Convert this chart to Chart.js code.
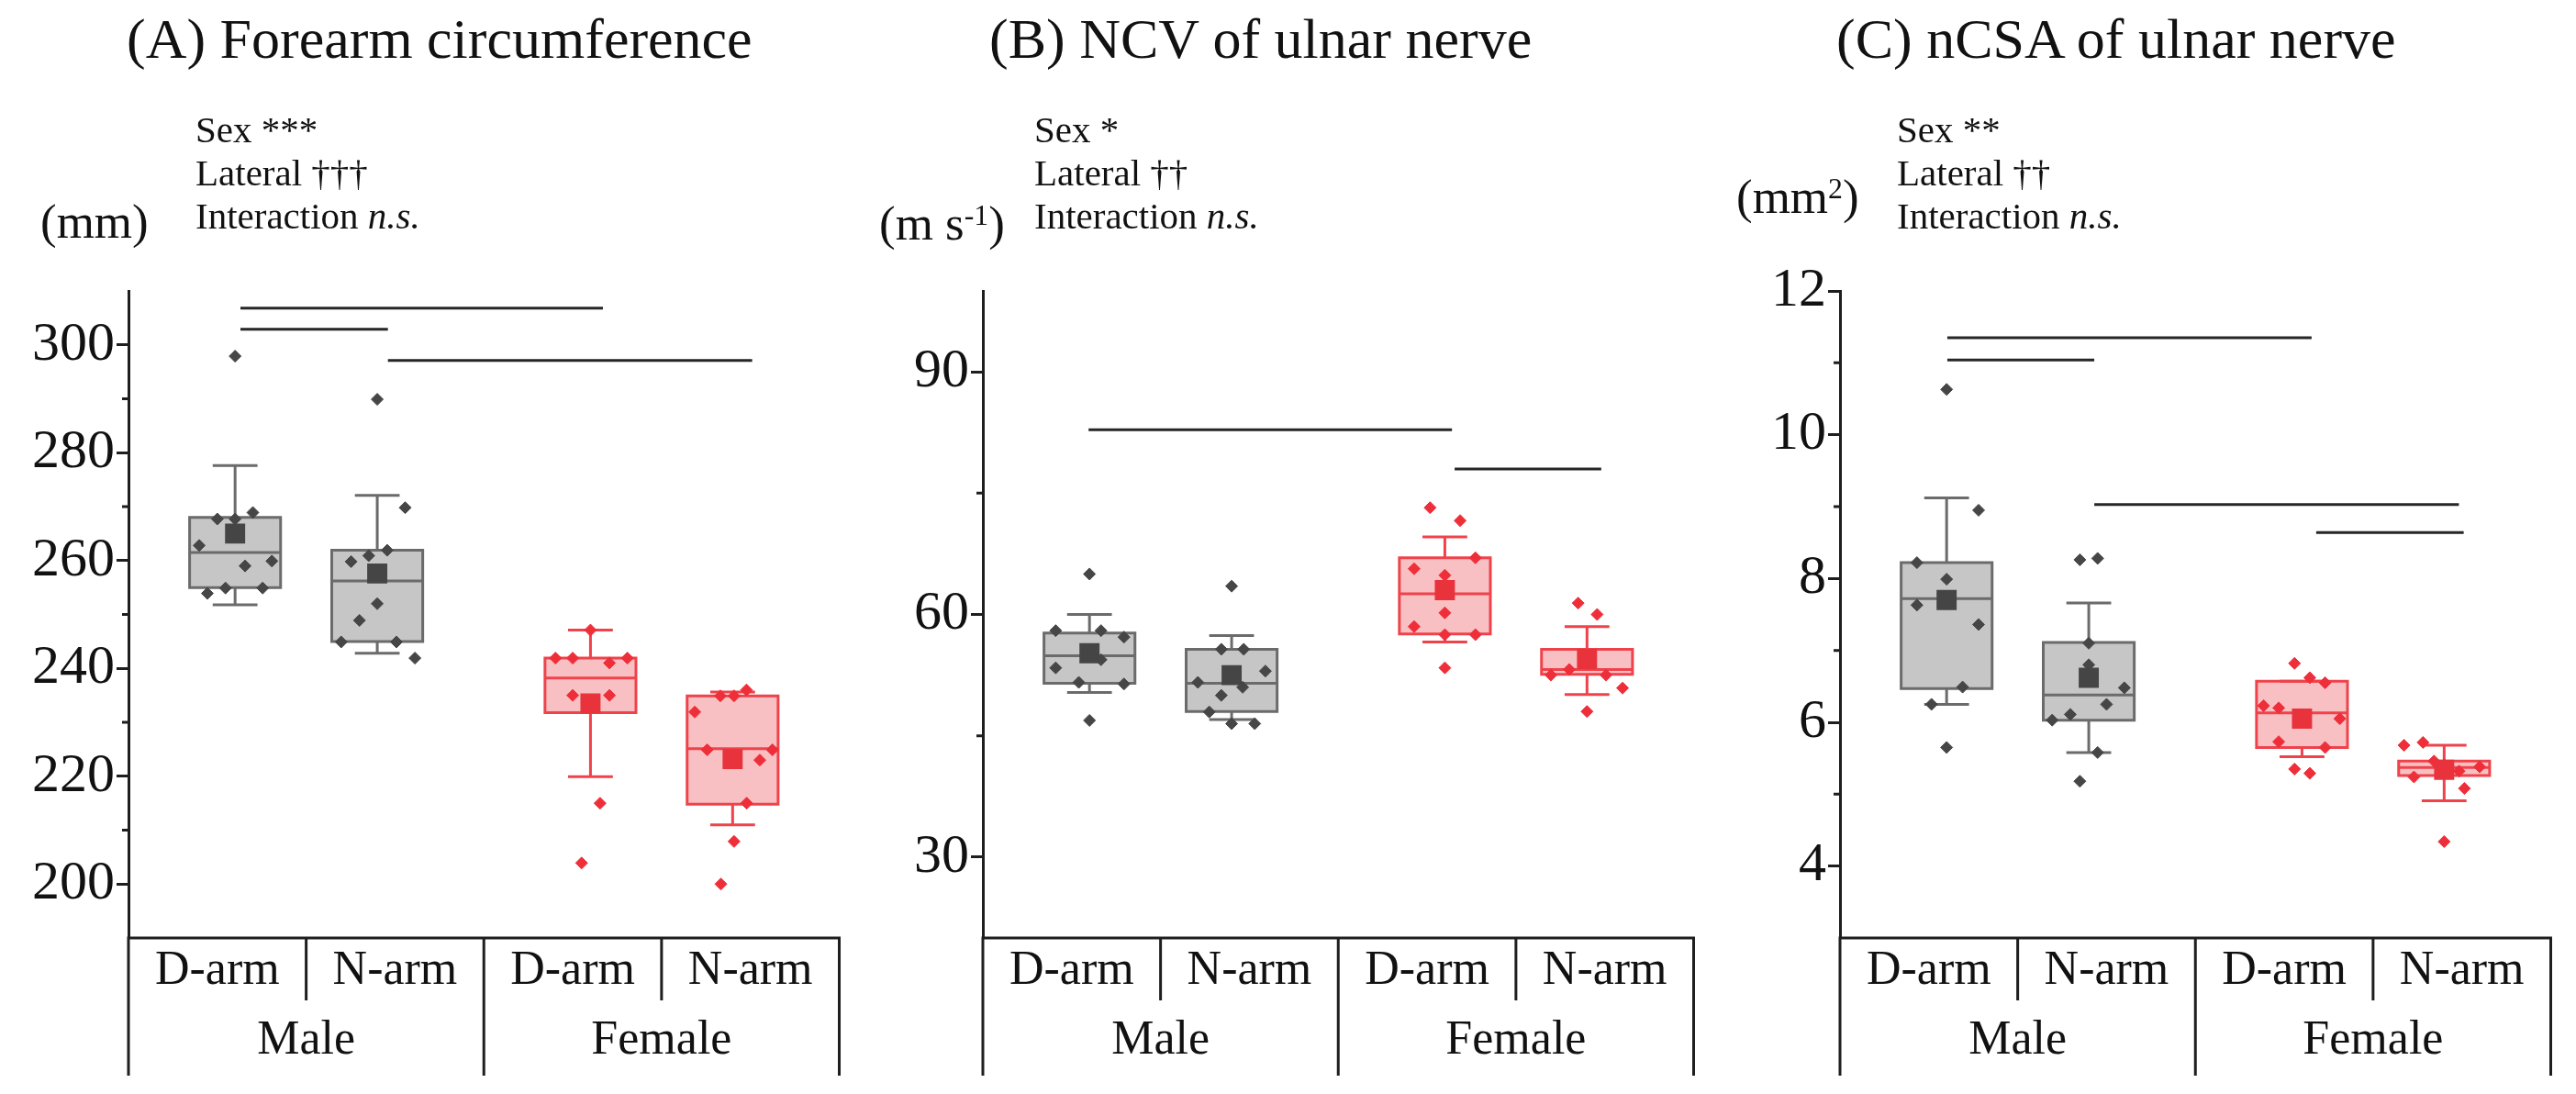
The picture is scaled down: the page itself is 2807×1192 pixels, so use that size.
<!DOCTYPE html>
<html>
<head>
<meta charset="utf-8">
<script src="https://cdn.jsdelivr.net/npm/chart.js@4.4.1/dist/chart.umd.min.js"></script>
<style>
  body { margin: 0; background: #fff; }
  #page { position: relative; width: 2807px; height: 1192px; overflow: hidden; background: #fff;
          font-family: "Liberation Serif", "Times New Roman", serif; color: #111; }
  #page canvas { position: absolute; top: 0; }
  .title { position: absolute; top: 11px; font-size: 62px; line-height: 1; white-space: nowrap; }
  .note { position: absolute; top: 118px; font-size: 41px; line-height: 47px; white-space: nowrap; }
  .unit { position: absolute; font-size: 53px; line-height: 1; white-space: nowrap; }
  .unit sup { font-size: 0.6em; line-height: 0; vertical-align: 0.5em; }
</style>
</head>
<body>
<div id="page">
  <canvas id="chartA" width="930" height="1192" style="left:0px"></canvas>
  <canvas id="chartB" width="930" height="1192" style="left:931px"></canvas>
  <canvas id="chartC" width="930" height="1192" style="left:1865px"></canvas>

  <div class="title" style="left:138px">(A) Forearm circumference</div>
  <div class="title" style="left:1078px">(B) NCV of ulnar nerve</div>
  <div class="title" style="left:2001px">(C) nCSA of ulnar nerve</div>

  <div class="note" style="left:213px">Sex ***<br>Lateral †††<br>Interaction <i>n.s.</i></div>
  <div class="note" style="left:1127px">Sex *<br>Lateral ††<br>Interaction <i>n.s.</i></div>
  <div class="note" style="left:2067px">Sex **<br>Lateral ††<br>Interaction <i>n.s.</i></div>

  <div class="unit" style="left:44px;top:215px">(mm)</div>
  <div class="unit" style="left:958px;top:217px">(m s<sup>-1</sup>)</div>
  <div class="unit" style="left:1892px;top:188px">(mm<sup>2</sup>)</div>
</div>

<script>
const armLabels = ['D-arm', 'N-arm', 'D-arm', 'N-arm'];
const sexLabels = ['Male', 'Female'];

// (A) Forearm circumference (mm)
const forearmRange = [190, 310];
const forearmTicks = [200, 220, 240, 260, 280, 300];
const forearmMinor = [210, 230, 250, 270, 290];
const forearmQ1 = [255.0, 245.0, 231.8, 214.8];
const forearmMedian = [261.5, 256.2, 238.2, 225.1];
const forearmQ3 = [268.0, 261.9, 241.9, 234.9];
const forearmLow = [251.8, 242.8, 219.9, 211.0];
const forearmHigh = [277.6, 272.1, 247.1, 235.6];
const forearmMean = [265.0, 257.6, 233.5, 223.2];
const forearmPoints = [
    [297.9, 253.9, 254.9, 262.8, 267.7, 267.7, 268.9, 259.0, 259.9, 254.9],
    [289.9, 269.8, 259.8, 260.9, 261.9, 252.0, 248.9, 244.9, 244.9, 241.9],
    [247.1, 241.9, 241.9, 241.0, 241.9, 235.0, 235.0, 215.0, 203.9],
    [231.9, 224.9, 224.9, 223.0, 215.0, 207.9, 200.0, 234.9, 234.9, 236.0]
];
const forearmJitter = [
    [0, -0.156, -0.054, -0.202, -0.10, 0, 0.10, 0.056, 0.207, 0.155],
    [0, 0.157, -0.147, -0.048, 0.056, 0, -0.10, -0.203, 0.108, 0.212],
    [0, -0.197, -0.10, 0.107, 0.208, -0.10, 0.107, 0.054, -0.05],
    [-0.213, -0.143, 0.224, 0.153, 0.079, 0.008, -0.066, -0.069, 0.008, 0.078]
];
const forearmSig = [[0.63, 2.67, 306.8], [0.63, 1.46, 302.9], [1.46, 3.51, 297.1]];

// (B) NCV of ulnar nerve (m/s)
const ncvRange = [20, 100];
const ncvTicks = [30, 60, 90];
const ncvMinor = [45, 75];
const ncvQ1 = [51.5, 48.0, 57.6, 52.6];
const ncvMedian = [54.9, 51.5, 62.55, 53.2];
const ncvQ3 = [57.7, 55.7, 67.0, 55.7];
const ncvLow = [50.35, 47.0, 56.6, 50.1];
const ncvHigh = [60.0, 57.4, 69.6, 58.5];
const ncvMean = [55.2, 52.5, 63.0, 54.5];
const ncvPoints = [
    [65.0, 58.0, 58.0, 57.2, 55.1, 54.4, 53.4, 51.6, 51.4, 46.9],
    [63.5, 55.7, 55.7, 53.0, 51.6, 51.0, 50.0, 47.95, 46.5, 46.5],
    [73.2, 71.6, 67.0, 65.65, 64.85, 60.2, 58.5, 57.5, 57.5, 53.4],
    [61.4, 60.0, 52.5, 53.2, 52.5, 53.9, 50.9, 48.0]
];
const ncvJitter = [
    [0, -0.19, 0.065, 0.194, 0, 0.065, -0.19, -0.06, 0.194, 0],
    [0, -0.058, 0.068, 0.19, -0.19, 0.062, -0.058, -0.126, 0, 0.13],
    [-0.083, 0.086, 0.172, -0.173, 0, 0, -0.173, 0, 0.172, 0],
    [-0.05, 0.057, -0.203, -0.10, 0.107, 0, 0.20, 0]
];
const ncvSig = [[0.595, 2.64, 82.85], [2.655, 3.48, 78.0]];

// (C) nCSA of ulnar nerve (mm2)
const ncsaRange = [3, 12];
const ncsaTicks = [4, 6, 8, 10, 12];
const ncsaMinor = [5, 7, 9, 11];
const ncsaQ1 = [6.47, 6.03, 5.65, 5.26];
const ncsaMedian = [7.72, 6.38, 6.13, 5.37];
const ncsaQ3 = [8.22, 7.11, 6.57, 5.46];
const ncsaLow = [6.25, 5.58, 5.52, 4.91];
const ncsaHigh = [9.12, 7.66, 6.57, 5.68];
const ncsaMean = [7.70, 6.62, 6.05, 5.34];
const ncsaPoints = [
    [10.63, 8.95, 8.22, 7.99, 7.63, 7.36, 6.49, 6.25, 5.65],
    [8.26, 8.28, 7.10, 6.80, 6.48, 6.25, 6.11, 6.03, 5.58, 5.18],
    [6.82, 6.62, 6.55, 6.23, 6.20, 6.05, 5.73, 5.65, 5.35, 5.29],
    [5.68, 5.72, 5.24, 5.46, 5.41, 5.32, 5.38, 5.08, 4.34]
];
const ncsaJitter = [
    [0, 0.18, -0.167, 0, -0.167, 0.18, 0.09, -0.085, 0],
    [-0.05, 0.05, 0, 0, 0.20, 0.10, -0.104, -0.206, 0.05, -0.05],
    [-0.042, 0.044, 0.13, -0.216, -0.131, 0.213, -0.131, 0.13, -0.042, 0.044],
    [-0.226, -0.119, -0.17, -0.057, 0, 0.084, 0.20, 0.114, 0]
];
const ncsaSig = [[0.604, 2.654, 11.35], [0.604, 1.431, 11.04], [1.431, 3.483, 9.03], [2.68, 3.51, 8.64]];

// layout / style
const boxCenters = [0.6, 1.4, 2.6, 3.4];
const boxHalf = 0.256;
const capHalf = 0.126;
const axisColor = '#1e1e1e';
const fontFamily = '"Liberation Serif", "Times New Roman", serif';
const palette = [
    { fill: '#c6c6c6', line: '#6b6b6b', dot: '#464646', mean: '#454545' },
    { fill: '#f9c0c4', line: '#ef424a', dot: '#ee2f3a', mean: '#e8333d' }
];

// x-axis drawn as a two-row table, plus short minor ticks on y
const tablePlugin = {
    id: 'catTable',
    afterDraw(chart, args, opts) {
        const { ctx, chartArea } = chart;
        const xs = chart.scales.x;
        const ys = chart.scales.y;
        const b = chartArea.bottom;
        ctx.save();
        ctx.strokeStyle = axisColor;
        ctx.lineWidth = 3;
        ctx.beginPath();
        ctx.moveTo(xs.getPixelForValue(0) - 1.5, b);
        ctx.lineTo(xs.getPixelForValue(4) + 1.5, b);
        [0, 2, 4].forEach(v => {
            const x = xs.getPixelForValue(v);
            ctx.moveTo(x, b);
            ctx.lineTo(x, b + 150);
        });
        [1, 3].forEach(v => {
            const x = xs.getPixelForValue(v);
            ctx.moveTo(x, b);
            ctx.lineTo(x, b + 68);
        });
        opts.minor.forEach(v => {
            const y = ys.getPixelForValue(v);
            ctx.moveTo(chartArea.left - 7, y);
            ctx.lineTo(chartArea.left, y);
        });
        ctx.stroke();

        ctx.fillStyle = '#111';
        ctx.textAlign = 'center';
        ctx.textBaseline = 'alphabetic';
        ctx.font = '52px ' + fontFamily;
        armLabels.forEach((t, i) => ctx.fillText(t, xs.getPixelForValue(i + 0.5), b + 50));
        sexLabels.forEach((t, i) => ctx.fillText(t, xs.getPixelForValue(i * 2 + 1), b + 126));
        ctx.restore();
    }
};

function gapAt(x) {
    return { x: x, y: null };
}

function buildChart(canvasId, p) {
    const datasets = [];
    p.q1.forEach((q1, i) => {
        const c = boxCenters[i];
        const col = palette[i < 2 ? 0 : 1];
        const q3 = p.q3[i];

        // box body
        datasets.push({
            data: [
                { x: c - boxHalf, y: q1 }, { x: c + boxHalf, y: q1 },
                { x: c + boxHalf, y: q3 }, { x: c - boxHalf, y: q3 },
                { x: c - boxHalf, y: q1 }
            ],
            fill: 'shape',
            backgroundColor: col.fill,
            borderColor: col.line,
            borderWidth: 3,
            borderCapStyle: 'square',
            pointRadius: 0,
            order: 5
        });

        // median, whiskers and caps
        datasets.push({
            data: [
                { x: c - boxHalf, y: p.median[i] }, { x: c + boxHalf, y: p.median[i] }, gapAt(c),
                { x: c, y: q3 }, { x: c, y: p.high[i] }, gapAt(c),
                { x: c - capHalf, y: p.high[i] }, { x: c + capHalf, y: p.high[i] }, gapAt(c),
                { x: c, y: q1 }, { x: c, y: p.low[i] }, gapAt(c),
                { x: c - capHalf, y: p.low[i] }, { x: c + capHalf, y: p.low[i] }
            ],
            fill: false,
            borderColor: col.line,
            borderWidth: 3,
            pointRadius: 0,
            order: 4
        });

        // individual values
        datasets.push({
            data: p.points[i].map((v, k) => ({ x: c + p.jitter[i][k], y: v })),
            showLine: false,
            pointStyle: 'rectRot',
            pointRadius: 6.5,
            pointBackgroundColor: col.dot,
            pointBorderColor: col.dot,
            pointBorderWidth: 1,
            order: 2
        });

        // mean marker
        datasets.push({
            data: [{ x: c, y: p.mean[i] }],
            showLine: false,
            pointStyle: 'rect',
            pointRadius: 15.5,
            pointBackgroundColor: col.mean,
            pointBorderColor: col.mean,
            pointBorderWidth: 0,
            order: 1
        });
    });

    // significance bars
    const sigData = [];
    p.sig.forEach((s, k) => {
        if (k > 0) sigData.push(gapAt(s[0]));
        sigData.push({ x: s[0], y: s[2] }, { x: s[1], y: s[2] });
    });
    datasets.push({
        data: sigData,
        fill: false,
        borderColor: '#262626',
        borderWidth: 3,
        pointRadius: 0,
        order: 0
    });

    return new Chart(document.getElementById(canvasId), {
        type: 'line',
        data: { datasets: datasets },
        plugins: [tablePlugin],
        options: {
            responsive: false,
            animation: false,
            events: [],
            layout: { padding: { top: 317, bottom: 170, left: 0, right: 10 } },
            plugins: {
                legend: { display: false },
                tooltip: { enabled: false },
                catTable: { minor: p.minor }
            },
            scales: {
                x: { type: 'linear', min: 0, max: 4, display: false },
                y: {
                    min: p.range[0],
                    max: p.range[1],
                    afterFit: scale => { scale.width = 140; },
                    afterBuildTicks: scale => { scale.ticks = p.ticks.map(v => ({ value: v })); },
                    ticks: {
                        color: '#111',
                        padding: 2,
                        font: { family: fontFamily, size: 60 }
                    },
                    grid: {
                        drawOnChartArea: false,
                        tickLength: 13,
                        tickWidth: 3,
                        tickColor: axisColor
                    },
                    border: { display: true, width: 3, color: axisColor }
                }
            }
        }
    });
}

buildChart('chartA', {
    range: forearmRange, ticks: forearmTicks, minor: forearmMinor,
    q1: forearmQ1, median: forearmMedian, q3: forearmQ3, low: forearmLow, high: forearmHigh,
    mean: forearmMean, points: forearmPoints, jitter: forearmJitter, sig: forearmSig
});
buildChart('chartB', {
    range: ncvRange, ticks: ncvTicks, minor: ncvMinor,
    q1: ncvQ1, median: ncvMedian, q3: ncvQ3, low: ncvLow, high: ncvHigh,
    mean: ncvMean, points: ncvPoints, jitter: ncvJitter, sig: ncvSig
});
buildChart('chartC', {
    range: ncsaRange, ticks: ncsaTicks, minor: ncsaMinor,
    q1: ncsaQ1, median: ncsaMedian, q3: ncsaQ3, low: ncsaLow, high: ncsaHigh,
    mean: ncsaMean, points: ncsaPoints, jitter: ncsaJitter, sig: ncsaSig
});
</script>
</body>
</html>
